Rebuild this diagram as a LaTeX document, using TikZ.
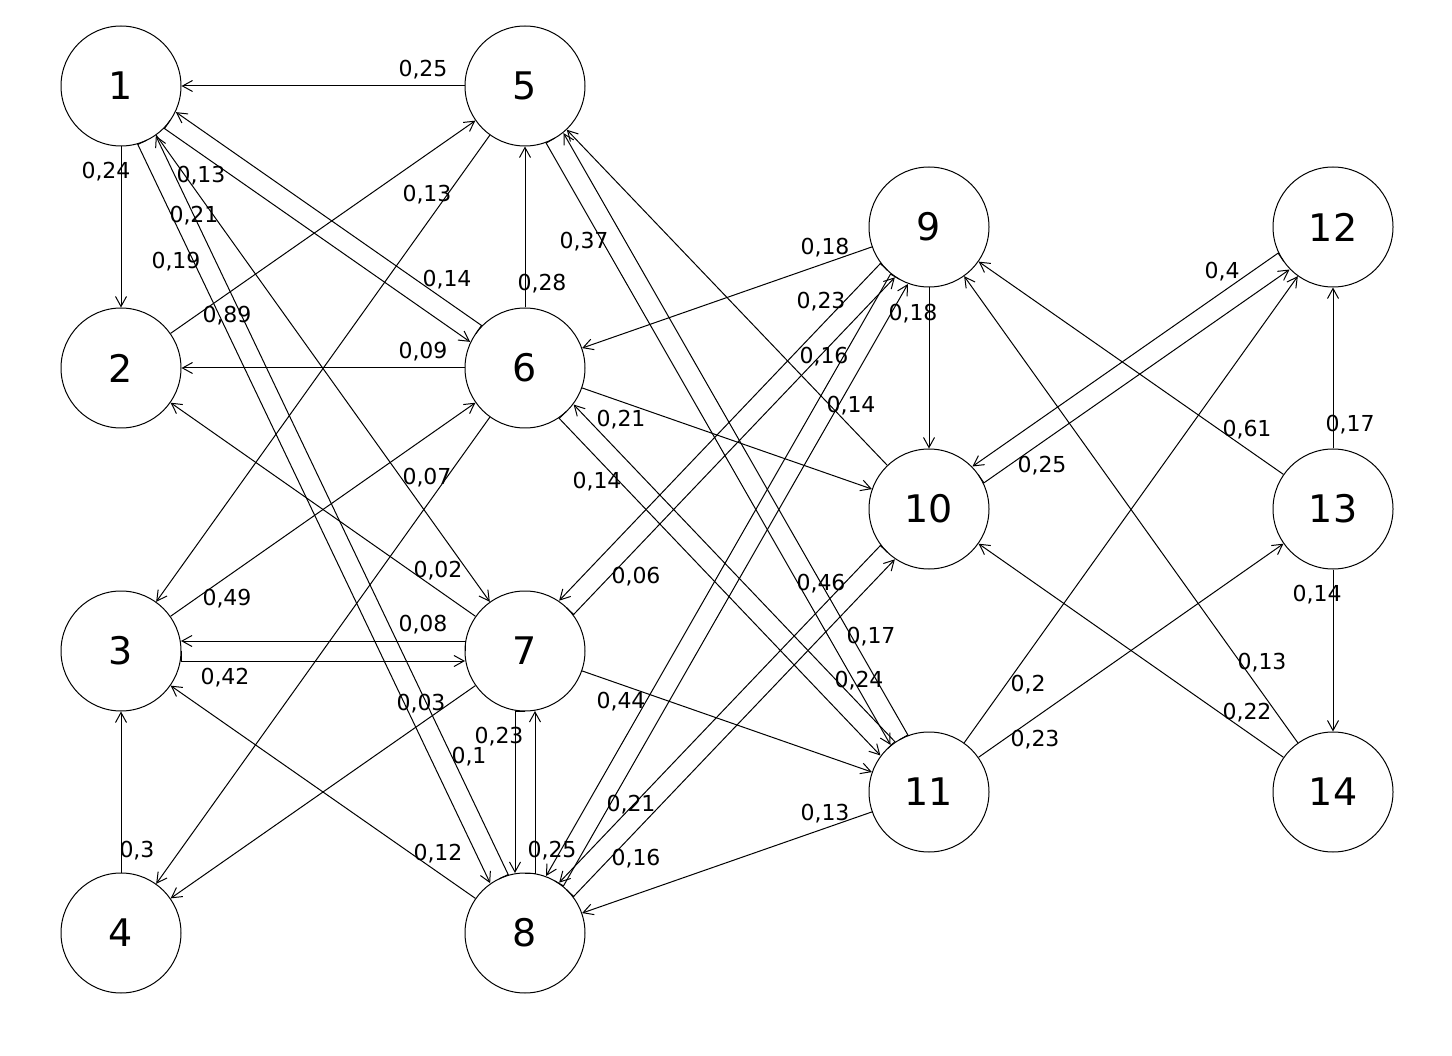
\documentclass[tikz,border=0pt]{standalone}
\usepackage{fontspec}
\setmainfont{DejaVu Sans}
\usetikzlibrary{arrows.meta,calc}
\newcommand\pairedge[2]{%
  \coordinate (ps) at ($(#1.center)!60pt!(#2.center)$);
  \coordinate (pe) at ($(#2.center)!60pt!(#1.center)$);
  \draw[arr] (ps) -- ($(ps)!10pt!-90:(#2.center)$) -- ($(pe)!10pt!90:(#1.center)$);
}
\begin{document}
\begin{tikzpicture}[x=1pt,y=-1pt,
  vtx/.style={circle,draw,line width=1pt,minimum size=120pt,inner sep=0pt,font=\fontsize{38}{40}\selectfont},
  lab/.style={inner sep=0pt,font=\fontsize{22}{24}\selectfont},
  arr/.style={line width=1pt,-{Straight Barb[length=10pt,width=11pt]}}]
\useasboundingbox[fill=white] (0,0) rectangle (1452,1056);

% vertices
\node[vtx] (n1) at (121,86) {1};
\node[vtx] (n2) at (121,368) {2};
\node[vtx] (n3) at (121,651) {3};
\node[vtx] (n4) at (121,933) {4};
\node[vtx] (n5) at (525,86) {5};
\node[vtx] (n6) at (525,368) {6};
\node[vtx] (n7) at (525,651) {7};
\node[vtx] (n8) at (525,933) {8};
\node[vtx] (n9) at (929,227) {9};
\node[vtx] (n10) at (929,509) {10};
\node[vtx] (n11) at (929,792) {11};
\node[vtx] (n12) at (1333,227) {12};
\node[vtx] (n13) at (1333,509) {13};
\node[vtx] (n14) at (1333,792) {14};

% single edges
\draw[arr] (n5) -- (n1);
\draw[arr] (n1) -- (n2);
\draw[arr] (n1) -- (n7);
\draw[arr] (n2) -- (n5);
\draw[arr] (n5) -- (n3);
\draw[arr] (n6) -- (n5);
\draw[arr] (n6) -- (n2);
\draw[arr] (n3) -- (n6);
\draw[arr] (n7) -- (n2);
\draw[arr] (n6) -- (n4);
\draw[arr] (n7) -- (n4);
\draw[arr] (n4) -- (n3);
\draw[arr] (n8) -- (n3);
\draw[arr] (n10) -- (n5);
\draw[arr] (n9) -- (n6);
\draw[arr] (n6) -- (n10);
\draw[arr] (n7) -- (n11);
\draw[arr] (n11) -- (n8);
\draw[arr] (n9) -- (n10);
\draw[arr] (n13) -- (n9);
\draw[arr] (n13) -- (n12);
\draw[arr] (n13) -- (n14);
\draw[arr] (n14) -- (n9);
\draw[arr] (n14) -- (n10);
\draw[arr] (n11) -- (n12);
\draw[arr] (n11) -- (n13);

% paired (two-way) edges
\pairedge{n1}{n6}
\pairedge{n6}{n1}
\pairedge{n1}{n8}
\pairedge{n8}{n1}
\pairedge{n3}{n7}
\pairedge{n7}{n3}
\pairedge{n7}{n8}
\pairedge{n8}{n7}
\pairedge{n5}{n11}
\pairedge{n11}{n5}
\pairedge{n6}{n11}
\pairedge{n11}{n6}
\pairedge{n7}{n9}
\pairedge{n9}{n7}
\pairedge{n8}{n9}
\pairedge{n9}{n8}
\pairedge{n8}{n10}
\pairedge{n10}{n8}
\pairedge{n10}{n12}
\pairedge{n12}{n10}

% labels
\node[lab] (l51) at (423,70) {0,25};
\node[lab] (l12) at (106,172) {0,24};
\node[lab] (l16) at (201,176) {0,13};
\node[lab] (l53) at (427,195) {0,13};
\node[lab] (l17) at (194,216) {0,21};
\node[lab] (l18) at (176,262) {0,19};
\node[lab] (l61) at (447,280) {0,14};
\node[lab] (l65) at (542,284) {0,28};
\node[lab] (l25) at (227,316) {0,89};
\node[lab] (l62) at (423,352) {0,09};
\node[lab] (l64) at (427,478) {0,07};
\node[lab] (l72) at (438,571) {0,02};
\node[lab] (l36) at (227,599) {0,49};
\node[lab] (l73) at (423,625) {0,08};
\node[lab] (l37) at (225,678) {0,42};
\node[lab] (l74) at (421,704) {0,03};
\node[lab] (l78) at (499,737) {0,23};
\node[lab] (l81) at (469,757) {0,1};
\node[lab] (l43) at (137,851) {0,3};
\node[lab] (l83) at (438,854) {0,12};
\node[lab] (l511) at (584,242) {0,37};
\node[lab] (l96) at (825,248) {0,18};
\node[lab] (l97) at (821,302) {0,23};
\node[lab] (l910) at (913,314) {0,18};
\node[lab] (l98) at (824,357) {0,16};
\node[lab] (l105) at (851,406) {0,14};
\node[lab] (l610) at (621,420) {0,21};
\node[lab] (l611) at (597,482) {0,14};
\node[lab] (l79) at (636,577) {0,06};
\node[lab] (l108) at (821,584) {0,46};
\node[lab] (l115) at (871,637) {0,17};
\node[lab] (l116) at (859,681) {0,24};
\node[lab] (l711) at (621,702) {0,44};
\node[lab] (l89) at (631,805) {0,21};
\node[lab] (l118) at (825,814) {0,13};
\node[lab] (l87) at (552,851) {0,25};
\node[lab] (l810) at (636,859) {0,16};
\node[lab] (l1210) at (1222,272) {0,4};
\node[lab] (l139) at (1247,430) {0,61};
\node[lab] (l1312) at (1350,425) {0,17};
\node[lab] (l1012) at (1042,466) {0,25};
\node[lab] (l1314) at (1317,595) {0,14};
\node[lab] (l149) at (1262,663) {0,13};
\node[lab] (l1410) at (1247,713) {0,22};
\node[lab] (l1112) at (1028,685) {0,2};
\node[lab] (l1113) at (1035,740) {0,23};
\end{tikzpicture}
\end{document}
